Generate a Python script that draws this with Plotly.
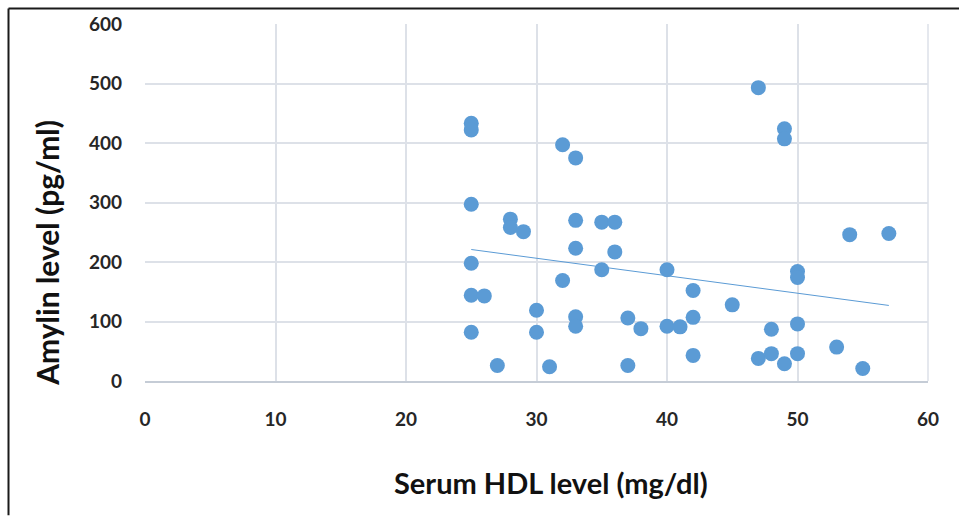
import plotly.graph_objects as go

hdl = [25, 25, 25, 25, 25, 25, 26, 27, 28, 28, 29, 30, 30, 31, 32, 32,
       33, 33, 33, 33, 33, 35, 35, 36, 36, 37, 37, 38, 40, 40, 41,
       42, 42, 42, 45, 47, 47, 48, 48, 49, 49, 49, 50, 50, 50, 50,
       53, 54, 55, 57]
amylin = [433, 422, 297, 198, 144, 82, 143, 26, 272, 258, 251, 119, 82, 24, 397, 169,
          375, 270, 223, 108, 92, 267, 187, 267, 217, 106, 26, 88, 187, 92, 91,
          152, 107, 43, 128, 493, 38, 87, 46, 424, 407, 29, 184, 174, 96, 46,
          57, 246, 21, 248]
trend_x = [25, 57]
trend_y = [221, 127]
x_ticks = [0, 10, 20, 30, 40, 50, 60]
y_ticks = [0, 100, 200, 300, 400, 500, 600]
x_title = "Serum HDL level (mg/dl)"
y_title = "Amylin level (pg/ml)"

blue = "#5B9BD5"
font = "Lato"

fig = go.Figure()
fig.add_trace(go.Scatter(x=hdl, y=amylin, mode="markers",
                         marker=dict(color=blue, size=15, line=dict(width=0)),
                         showlegend=False, hoverinfo="x+y"))
fig.add_trace(go.Scatter(x=trend_x, y=trend_y, mode="lines",
                         line=dict(color=blue, width=1),
                         showlegend=False))

W, H = 959, 516
L, R, T, B = 145, 31, 22, 135
pw, ph = W - L - R, H - T - B

fig.update_layout(
    width=W, height=H,
    margin=dict(l=L, r=R, t=T, b=B),
    paper_bgcolor="white", plot_bgcolor="white",
    font=dict(family=font, color="#262626"),
    xaxis=dict(range=[0, 60], tickvals=x_ticks, showgrid=True, gridcolor="#DDE1E8",
               gridwidth=1.5, zeroline=False, showline=True, linecolor="#C5CCD6", linewidth=1.5,
               ticks="", ticklabelstandoff=20,
               tickfont=dict(family=font, size=19, color="#262626", weight="bold")),
    yaxis=dict(range=[0, 600], tickvals=y_ticks, showgrid=True, gridcolor="#DDE1E8",
               gridwidth=1.5, zeroline=False, showline=False,
               ticks="", ticklabelstandoff=22,
               tickfont=dict(family=font, size=19, color="#262626", weight="bold")),
    annotations=[
        dict(text=x_title, xref="paper", yref="paper",
             x=(551 - L) / pw, y=-(483 - (T + ph)) / ph,
             showarrow=False, xanchor="center", yanchor="middle",
             font=dict(family=font, size=29, color="#111111", weight="bold")),
        dict(text=y_title, xref="paper", yref="paper",
             x=(47 - L) / pw, y=1 - (252 - T) / ph, textangle=-90,
             showarrow=False, xanchor="center", yanchor="middle",
             font=dict(family=font, size=30, color="#111111", weight="bold")),
    ],
    shapes=[
        dict(type="line", xref="paper", yref="paper",
             x0=(8.5 - L) / pw, x1=(W - L) / pw,
             y0=1 + (T - 6.5) / ph, y1=1 + (T - 6.5) / ph,
             line=dict(color="#1a1a1a", width=2)),
        dict(type="line", xref="paper", yref="paper",
             x0=(8.5 - L) / pw, x1=(8.5 - L) / pw,
             y0=1 + (T - 6.5) / ph, y1=-(H - T - ph) / ph,
             line=dict(color="#1a1a1a", width=2)),
        dict(type="line", xref="paper", yref="paper",
             x0=1, x1=1, y0=0, y1=1,
             line=dict(color="#DDE1E8", width=1.5)),
    ],
)

fig.write_html("out.html", config={"displayModeBar": False},
               post_script="document.body.style.margin='0';")
